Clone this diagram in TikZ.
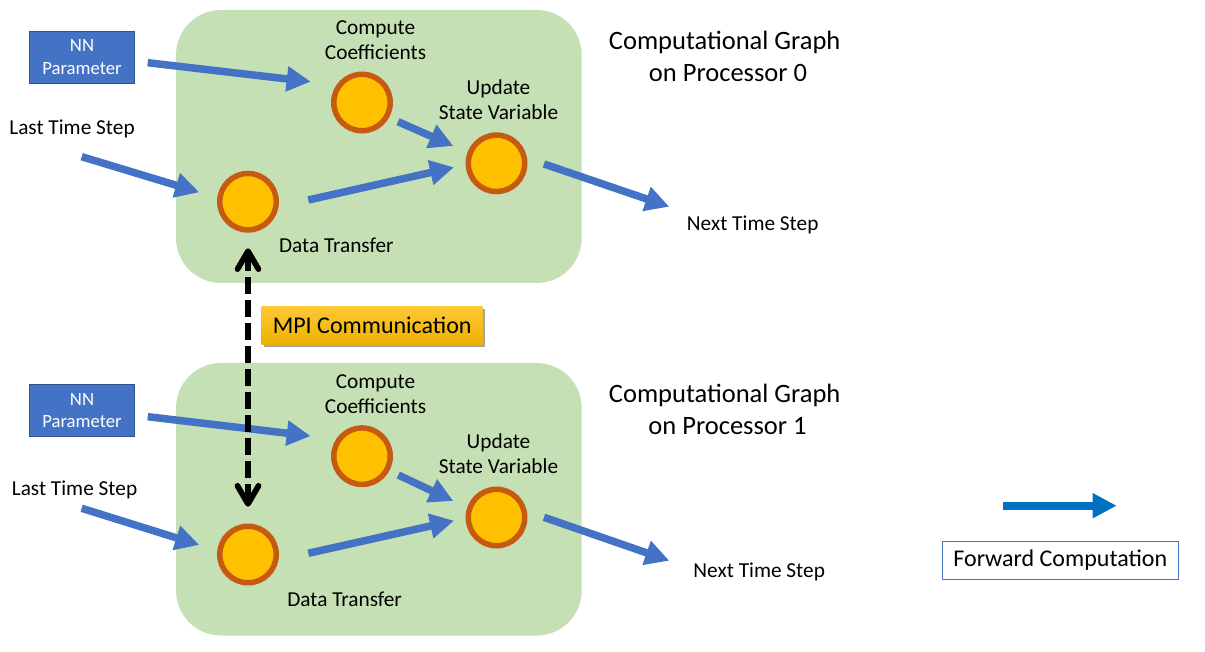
\documentclass[tikz,border=0pt]{standalone}
\usepackage{fontspec}
\setmainfont{Carlito}
\usetikzlibrary{arrows.meta,calc,shadows}
\definecolor{gbg}{HTML}{C5E0B4}
\definecolor{nblue}{HTML}{4472C4}
\definecolor{nbord}{HTML}{2F528F}
\definecolor{cfill}{HTML}{FFC000}
\definecolor{cbord}{HTML}{C55A11}
\definecolor{lblue}{HTML}{0070C0}
\definecolor{mpitop}{HTML}{FFC836}
\definecolor{mpibot}{HTML}{ECB200}
\begin{document}
\begin{tikzpicture}[x=1pt,y=-1pt,
  panel/.style={fill=gbg, rounded corners=45pt},
  nnbox/.style={fill=nblue, draw=nbord, line width=1pt, minimum width=105pt, minimum height=52pt, inner sep=0pt, align=center, text=white, font=\fontsize{18.7}{22.5}\selectfont},
  op/.style={circle, fill=cfill, draw=cbord, line width=5.5pt, minimum size=56.5pt, inner sep=0pt},
  lbl/.style={anchor=base, inner sep=0pt, font=\fontsize{21.3}{25}\selectfont},
  ttl/.style={anchor=base, inner sep=0pt, font=\fontsize{26.5}{32}\selectfont},
  flow/.style={draw=nblue, line width=7.5pt, -{Triangle[length=24pt,width=24pt]}},
  legflow/.style={draw=lblue, line width=8.3pt, -{Triangle[length=24pt,width=23.5pt]}},
  mpilink/.style={draw=black, line width=5.7pt, dash pattern=on 17pt off 6pt,
    {Straight Barb[length=18pt,width=21pt,round]}-{Straight Barb[length=18pt,width=21pt,round]}},
  mpibox/.style={top color=mpitop, bottom color=mpibot, minimum width=221pt, minimum height=38.3pt, inner sep=0pt,
    font=\fontsize{24}{28}\selectfont, drop shadow={shadow xshift=2.5pt, shadow yshift=-2.5pt, opacity=0.35, fill=black}},
  legbox/.style={draw=nblue, line width=1pt, fill=white, minimum width=236pt, minimum height=38pt, inner sep=0pt,
    font=\fontsize{24}{28}\selectfont}
]
\useasboundingbox (0,0) rectangle (1205,652);
\fill[white] (0,0) rectangle (1205,652);

% panels
\fill[panel] (176,10) rectangle (581.7,283);
\fill[panel] (176,363) rectangle (581.7,635.5);

% ---------- Processor 0 ----------
\node[nnbox] (nn0) at (82,57.2) {NN\\Parameter};
\node[op] (cc0) at (362,102.5) {};
\node[op] (up0) at (496.5,163.3) {};
\node[op] (dt0) at (248,201.7) {};
\node[lbl] (cc0a) at (375.5,34.8) {Compute};
\node[lbl] (cc0b) at (375.5,59.8) {Coefficients};
\node[lbl] (up0a) at (498.5,94.3) {Update};
\node[lbl] (up0b) at (498.5,120) {State Variable};
\node[lbl] (dt0a) at (336.3,253) {Data Transfer};
\node[lbl] (last0) at (72,135) {Last Time Step};
\node[lbl] (next0) at (752.7,230.7) {Next Time Step};
\node[ttl] (t0a) at (724.7,49.3) {Computational Graph};
\node[ttl] (t0b) at (728,81.7) {on Processor 0};

\draw[flow] ($(nn0.center)+(65.7,5.5)$) -- ($(cc0.center)+(-51.3,-20.8)$);
\draw[flow] ($(last0.base)+(9.7,21.7)$) -- ($(dt0.center)+(-48.7,-9.4)$);
\draw[flow] ($(cc0.center)+(36,19.2)$) -- ($(up0.center)+(-43.2,-17.3)$);
\draw[flow] ($(dt0.center)+(60.3,-1.7)$) -- ($(up0.center)+(-42.5,4)$);
\draw[flow] ($(up0.center)+(47.5,0.7)$) -- ($(next0.base)+(-83.4,-24)$);

% ---------- Processor 1 ----------
\node[nnbox] (nn1) at (82,410.8) {NN\\Parameter};
\node[op] (cc1) at (362,456.2) {};
\node[op] (up1) at (496.5,517.5) {};
\node[op] (dt1) at (248,554.5) {};
\node[lbl] (cc1a) at (375.5,388.3) {Compute};
\node[lbl] (cc1b) at (375.5,413.3) {Coefficients};
\node[lbl] (up1a) at (498.5,448.3) {Update};
\node[lbl] (up1b) at (498.5,473.3) {State Variable};
\node[lbl] (dt1a) at (344.6,606) {Data Transfer};
\node[lbl] (last1) at (74.5,495) {Last Time Step};
\node[lbl] (next1) at (759.2,577.3) {Next Time Step};
\node[ttl] (t1a) at (724.7,402.3) {Computational Graph};
\node[ttl] (t1b) at (727.5,434.7) {on Processor 1};

\draw[flow] ($(nn1.center)+(65.7,5.9)$) -- ($(cc1.center)+(-51.3,-20.2)$);
\draw[flow] ($(last1.base)+(7.2,13.3)$) -- ($(dt1.center)+(-48.7,-9.5)$);
\draw[flow] ($(cc1.center)+(36.3,18.8)$) -- ($(up1.center)+(-43.2,-16.5)$);
\draw[flow] ($(dt1.center)+(60.3,-1.2)$) -- ($(up1.center)+(-42.5,3.2)$);
\draw[flow] ($(up1.center)+(47.5,-0.2)$) -- ($(next1.base)+(-89.9,-16.6)$);

% ---------- MPI ----------
\node[mpibox] (mpi) at (372.2,325.2) {MPI Communication};
\draw[mpilink] ($(dt0.south)+(0,15.6)$) -- ($(dt1.north)+(0,-16.8)$);

% ---------- legend ----------
\coordinate (ls) at (1003.3,505.7);
\coordinate (le) at (1116.7,505.7);
\draw[legflow] (ls) -- (le);
\node[legbox] (leg) at (1060.3,560) {Forward Computation};
\end{tikzpicture}
\end{document}
